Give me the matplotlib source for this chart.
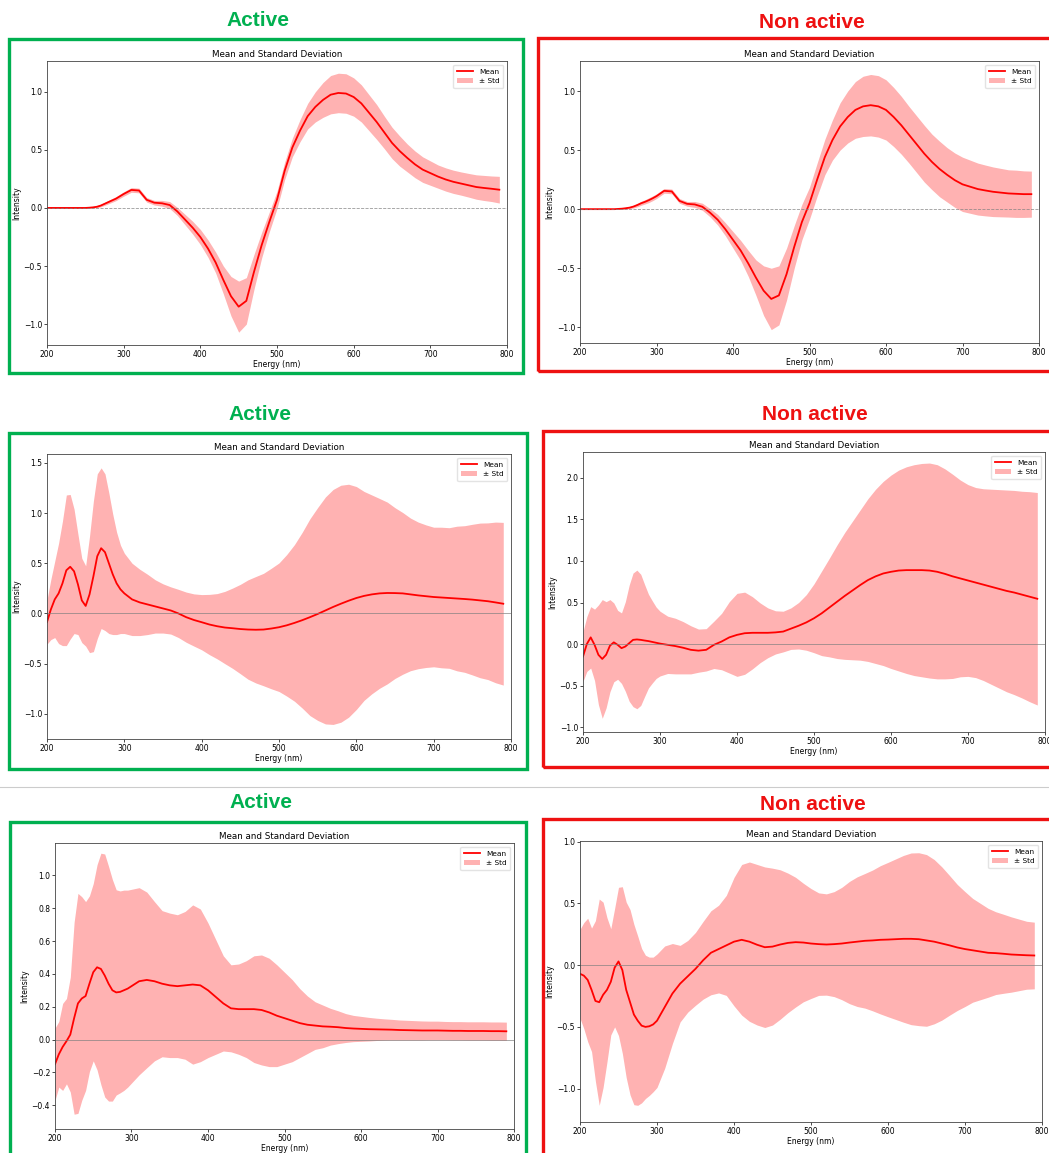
import matplotlib
matplotlib.use("Agg")
import matplotlib.pyplot as plt
from matplotlib.patches import Rectangle
from matplotlib.lines import Line2D

# ---------------- data ----------------
energy = [200, 205, 210, 215, 220, 225, 230, 235, 240, 245, 250, 255, 260, 265, 270, 275, 280, 285, 290, 295,
          300, 310, 320, 330, 340, 350, 360, 370, 380, 390, 400, 410, 420, 430, 440, 450, 460, 470, 480, 490,
          500, 510, 520, 530, 540, 550, 560, 570, 580, 590, 600, 610, 620, 630, 640, 650, 660, 670, 680, 690,
          700, 710, 720, 730, 740, 750, 760, 770, 780, 790]

active1_mean = [0, 0, 0, 0, 0, 0, 0, 0, 0, 0, 0, 0.002, 0.005, 0.01, 0.02, 0.035, 0.05, 0.065, 0.08, 0.1,
                0.12, 0.155, 0.15, 0.07, 0.045, 0.04, 0.025, -0.03, -0.1, -0.17, -0.25, -0.35, -0.47, -0.62, -0.76, -0.85, -0.80, -0.55, -0.32, -0.12,
                0.07, 0.32, 0.52, 0.665, 0.79, 0.87, 0.93, 0.975, 0.99, 0.985, 0.955, 0.90, 0.82, 0.74, 0.65, 0.56, 0.49, 0.43, 0.375, 0.33,
                0.30, 0.27, 0.245, 0.225, 0.21, 0.195, 0.18, 0.172, 0.165, 0.157]
active1_std = [0.003] * 11 + [0.005, 0.007, 0.009, 0.011, 0.013, 0.015, 0.016, 0.017, 0.018,
               0.019, 0.02, 0.02, 0.02, 0.02, 0.025, 0.03, 0.035, 0.045, 0.055, 0.065, 0.075, 0.09, 0.12, 0.17, 0.22, 0.2, 0.15, 0.11, 0.085,
               0.075, 0.075, 0.08, 0.095, 0.11, 0.13, 0.15, 0.165, 0.17, 0.17, 0.165, 0.16, 0.155, 0.15, 0.14, 0.135, 0.13, 0.12, 0.115, 0.11,
               0.105, 0.1, 0.1, 0.1, 0.1, 0.102, 0.105, 0.108, 0.11, 0.115]

inactive1_mean = [0] * 10 + [0.002, 0.004, 0.008, 0.013, 0.022, 0.035, 0.05, 0.062, 0.076, 0.092,
                  0.11, 0.155, 0.15, 0.07, 0.045, 0.04, 0.02, -0.03, -0.09, -0.17, -0.26, -0.35, -0.46, -0.58, -0.69, -0.76, -0.73, -0.55, -0.32, -0.11,
                  0.05, 0.25, 0.44, 0.585, 0.70, 0.78, 0.84, 0.87, 0.88, 0.87, 0.84, 0.78, 0.71, 0.63, 0.55, 0.47, 0.40, 0.34, 0.29, 0.245,
                  0.21, 0.19, 0.17, 0.158, 0.147, 0.14, 0.133, 0.13, 0.127, 0.127]
inactive1_std = [0.003] * 11 + [0.005, 0.008, 0.01, 0.012, 0.015, 0.017, 0.018, 0.02, 0.02,
                 0.02, 0.02, 0.02, 0.02, 0.02, 0.025, 0.03, 0.035, 0.045, 0.055, 0.07, 0.085, 0.11, 0.15, 0.21, 0.26, 0.25, 0.22, 0.18, 0.15,
                 0.135, 0.14, 0.15, 0.17, 0.2, 0.22, 0.24, 0.255, 0.26, 0.26, 0.255, 0.25, 0.245, 0.24, 0.24, 0.24, 0.235, 0.235, 0.23, 0.23,
                 0.23, 0.225, 0.22, 0.215, 0.21, 0.205, 0.2, 0.2, 0.197, 0.195]

active2_mean = [-0.085, 0.04, 0.14, 0.2, 0.3, 0.43, 0.465, 0.42, 0.29, 0.13, 0.075, 0.19, 0.37, 0.57, 0.65, 0.61, 0.5, 0.39, 0.3, 0.24,
                0.2, 0.14, 0.11, 0.09, 0.07, 0.05, 0.03, 0.0, -0.037, -0.065, -0.087, -0.11, -0.127, -0.14, -0.147, -0.155, -0.16, -0.162, -0.16, -0.15,
                -0.137, -0.118, -0.094, -0.067, -0.037, -0.005, 0.03, 0.065, 0.097, 0.127, 0.154, 0.175, 0.19, 0.2, 0.204, 0.203, 0.2, 0.19, 0.18, 0.172,
                0.164, 0.159, 0.154, 0.149, 0.144, 0.138, 0.13, 0.122, 0.11, 0.097]
active2_std = [0.22, 0.3, 0.38, 0.5, 0.62, 0.75, 0.72, 0.62, 0.5, 0.42, 0.4, 0.58, 0.75, 0.82, 0.8, 0.78, 0.7, 0.6, 0.51, 0.44,
               0.4, 0.36, 0.33, 0.3, 0.265, 0.245, 0.235, 0.24, 0.25, 0.26, 0.275, 0.3, 0.325, 0.36, 0.4, 0.445, 0.495, 0.53, 0.56, 0.6,
               0.64, 0.705, 0.78, 0.875, 0.98, 1.06, 1.13, 1.17, 1.18, 1.16, 1.11, 1.04, 0.99, 0.945, 0.905, 0.85, 0.805, 0.76, 0.73, 0.71,
               0.695, 0.7, 0.7, 0.72, 0.73, 0.75, 0.77, 0.78, 0.8, 0.81]

inactive2_mean = [-0.15, 0.0, 0.08, -0.01, -0.13, -0.18, -0.13, -0.02, 0.02, -0.01, -0.05, -0.03, 0.01, 0.05, 0.055, 0.05, 0.042, 0.035, 0.025, 0.015,
                  0.005, -0.01, -0.025, -0.045, -0.07, -0.08, -0.07, -0.01, 0.03, 0.08, 0.11, 0.13, 0.135, 0.135, 0.135, 0.14, 0.15, 0.185, 0.22, 0.26,
                  0.31, 0.37, 0.44, 0.51, 0.58, 0.645, 0.71, 0.77, 0.815, 0.85, 0.87, 0.885, 0.89, 0.89, 0.89, 0.885, 0.87, 0.845, 0.815, 0.79,
                  0.765, 0.74, 0.715, 0.69, 0.665, 0.64, 0.62, 0.595, 0.57, 0.545]
inactive2_std = [0.3, 0.33, 0.37, 0.43, 0.6, 0.715, 0.64, 0.555, 0.475, 0.415, 0.425, 0.54, 0.7, 0.805, 0.835, 0.79, 0.675, 0.565, 0.495, 0.43,
                 0.39, 0.345, 0.335, 0.315, 0.29, 0.26, 0.255, 0.285, 0.34, 0.43, 0.5, 0.495, 0.435, 0.36, 0.3, 0.26, 0.245, 0.25, 0.28, 0.335,
                 0.415, 0.51, 0.595, 0.685, 0.765, 0.835, 0.905, 0.98, 1.05, 1.11, 1.165, 1.21, 1.245, 1.27, 1.285, 1.295, 1.29, 1.265, 1.23, 1.185,
                 1.155, 1.145, 1.155, 1.175, 1.195, 1.215, 1.23, 1.245, 1.265, 1.28]

active3_mean = [-0.15, -0.09, -0.045, -0.01, 0.03, 0.13, 0.22, 0.25, 0.265, 0.34, 0.41, 0.44, 0.43, 0.39, 0.34, 0.3, 0.287, 0.29, 0.3, 0.31,
                0.325, 0.355, 0.363, 0.355, 0.34, 0.33, 0.325, 0.33, 0.335, 0.33, 0.3, 0.26, 0.22, 0.19, 0.185, 0.185, 0.185, 0.18, 0.165, 0.145,
                0.13, 0.115, 0.1, 0.09, 0.085, 0.08, 0.078, 0.075, 0.07, 0.067, 0.065, 0.063, 0.062, 0.061, 0.06, 0.058, 0.057, 0.056, 0.055, 0.055,
                0.055, 0.054, 0.053, 0.053, 0.052, 0.052, 0.052, 0.051, 0.051, 0.05]
active3_std = [0.22, 0.2, 0.265, 0.26, 0.35, 0.585, 0.67, 0.62, 0.575, 0.535, 0.54, 0.625, 0.705, 0.74, 0.715, 0.675, 0.625, 0.615, 0.61, 0.6,
               0.59, 0.57, 0.535, 0.485, 0.445, 0.44, 0.435, 0.45, 0.485, 0.465, 0.41, 0.35, 0.29, 0.265, 0.275, 0.295, 0.325, 0.335, 0.33, 0.31,
               0.28, 0.25, 0.21, 0.175, 0.145, 0.13, 0.112, 0.1, 0.088, 0.08, 0.076, 0.072, 0.068, 0.065, 0.063, 0.061, 0.06, 0.059, 0.058, 0.057,
               0.057, 0.056, 0.056, 0.056, 0.056, 0.056, 0.056, 0.056, 0.056, 0.056]

inactive3_mean = [-0.07, -0.085, -0.12, -0.2, -0.29, -0.3, -0.24, -0.2, -0.135, -0.02, 0.03, -0.04, -0.2, -0.3, -0.4, -0.45, -0.49, -0.5, -0.495, -0.48,
                  -0.45, -0.34, -0.23, -0.15, -0.09, -0.03, 0.04, 0.1, 0.13, 0.16, 0.19, 0.205, 0.19, 0.165, 0.145, 0.15, 0.167, 0.18, 0.186, 0.183,
                  0.175, 0.17, 0.167, 0.17, 0.175, 0.183, 0.19, 0.197, 0.2, 0.205, 0.207, 0.21, 0.213, 0.213, 0.21, 0.2, 0.19, 0.175, 0.16, 0.143,
                  0.13, 0.12, 0.11, 0.1, 0.097, 0.092, 0.086, 0.083, 0.08, 0.078]
inactive3_std = [0.36, 0.43, 0.5, 0.5, 0.65, 0.835, 0.75, 0.585, 0.43, 0.48, 0.6, 0.675, 0.71, 0.75, 0.73, 0.685, 0.625, 0.58, 0.56, 0.545,
                 0.54, 0.495, 0.405, 0.31, 0.29, 0.295, 0.315, 0.34, 0.355, 0.405, 0.52, 0.61, 0.645, 0.65, 0.65, 0.635, 0.605, 0.565, 0.525, 0.48,
                 0.445, 0.415, 0.41, 0.425, 0.455, 0.495, 0.525, 0.545, 0.57, 0.6, 0.625, 0.65, 0.675, 0.695, 0.7, 0.695, 0.665, 0.62, 0.565, 0.51,
                 0.465, 0.42, 0.39, 0.36, 0.335, 0.32, 0.305, 0.29, 0.275, 0.27]

group_labels = ["Active", "Non active"]
panel_title = "Mean and Standard Deviation"
x_label = "Energy (nm)"
y_label = "Intensity"
legend_labels = ["Mean", "\u00b1 Std"]

# ---------------- layout ----------------
W, H = 1049, 1153
fig = plt.figure(figsize=(W / 100, H / 100), dpi=100)
fig.patch.set_facecolor("white")

GREEN = "#00b050"
RED = "#ee1111"
HEAD_FONT = ["Liberation Sans Narrow", "Liberation Sans", "DejaVu Sans"]


def rect(x0, y0, x1, y1):
    return [x0 / W, 1 - y1 / H, (x1 - x0) / W, (y1 - y0) / H]


def box(x0, y0, x1, y1, color):
    fig.patches.append(Rectangle((x0 / W, 1 - y1 / H), (x1 - x0) / W, (y1 - y0) / H,
                                 transform=fig.transFigure, fill=False, edgecolor=color,
                                 linewidth=2.4, zorder=0))


def header(xc, yc, text, color):
    fig.text(xc / W, 1 - yc / H, text, ha="center", va="center", color=color,
             fontsize=15, fontweight="bold", family=HEAD_FONT)


panels = [
    # axes rect (px),            mean,          std,          ylim,            zero style
    ((47, 61, 507, 345), active1_mean, active1_std, (-1.18, 1.265), "--"),
    ((580, 61, 1039, 343), inactive1_mean, inactive1_std, (-1.133, 1.254), "--"),
    ((47, 454, 511, 739), active2_mean, active2_std, (-1.25, 1.588), "-"),
    ((583, 452, 1045, 732), inactive2_mean, inactive2_std, (-1.06, 2.313), "-"),
    ((55, 843, 514, 1129), active3_mean, active3_std, (-0.545, 1.197), "-"),
    ((580, 841, 1042, 1122), inactive3_mean, inactive3_std, (-1.27, 1.005), "-"),
]

for (r, mean, std, ylim, zstyle) in panels:
    ax = fig.add_axes(rect(*r))
    lo = [m - s for m, s in zip(mean, std)]
    hi = [m + s for m, s in zip(mean, std)]
    ax.fill_between(energy, lo, hi, color="red", alpha=0.3, linewidth=0, label=legend_labels[1])
    ax.plot(energy, mean, color="red", linewidth=1.3, label=legend_labels[0])
    ax.axhline(0, color="gray", linestyle=zstyle, linewidth=0.6, alpha=0.8)
    ax.set_xlim(200, 800)
    ax.set_ylim(*ylim)
    ax.set_title(panel_title, fontsize=6.3, pad=3)
    ax.set_xlabel(x_label, fontsize=5.5, labelpad=1)
    ax.set_ylabel(y_label, fontsize=5.5, labelpad=2)
    ax.tick_params(labelsize=5.5, length=2, width=0.5, pad=1.5)
    for sp in ax.spines.values():
        sp.set_linewidth(0.6)
        sp.set_color("#444444")
    handles, labels = ax.get_legend_handles_labels()
    order = [labels.index(legend_labels[0]), labels.index(legend_labels[1])]
    ax.legend([handles[i] for i in order], [labels[i] for i in order], loc="upper right",
              fontsize=5.3, frameon=True, handlelength=2.2, borderpad=0.5, labelspacing=0.5,
              framealpha=0.8, edgecolor="#dddddd", fancybox=True)

# group boxes and headers
box(9, 39, 523, 373, GREEN)
box(538, 38, 1060, 371, RED)
box(9, 433, 527, 769, GREEN)
box(543, 431, 1060, 767, RED)
box(10, 822, 526, 1165, GREEN)
box(543, 819, 1060, 1165, RED)

header(258, 21, group_labels[0], GREEN)
header(812, 22, group_labels[1], RED)
header(260, 414, group_labels[0], GREEN)
header(815, 415, group_labels[1], RED)
header(261, 803, group_labels[0], GREEN)
header(813, 804, group_labels[1], RED)

# thin separator line between second and third rows
fig.add_artist(Line2D([0, 1], [1 - 787 / H, 1 - 787 / H], transform=fig.transFigure,
                      color="#cccccc", linewidth=0.8))

fig.savefig("out.png", dpi=100, facecolor="white")
